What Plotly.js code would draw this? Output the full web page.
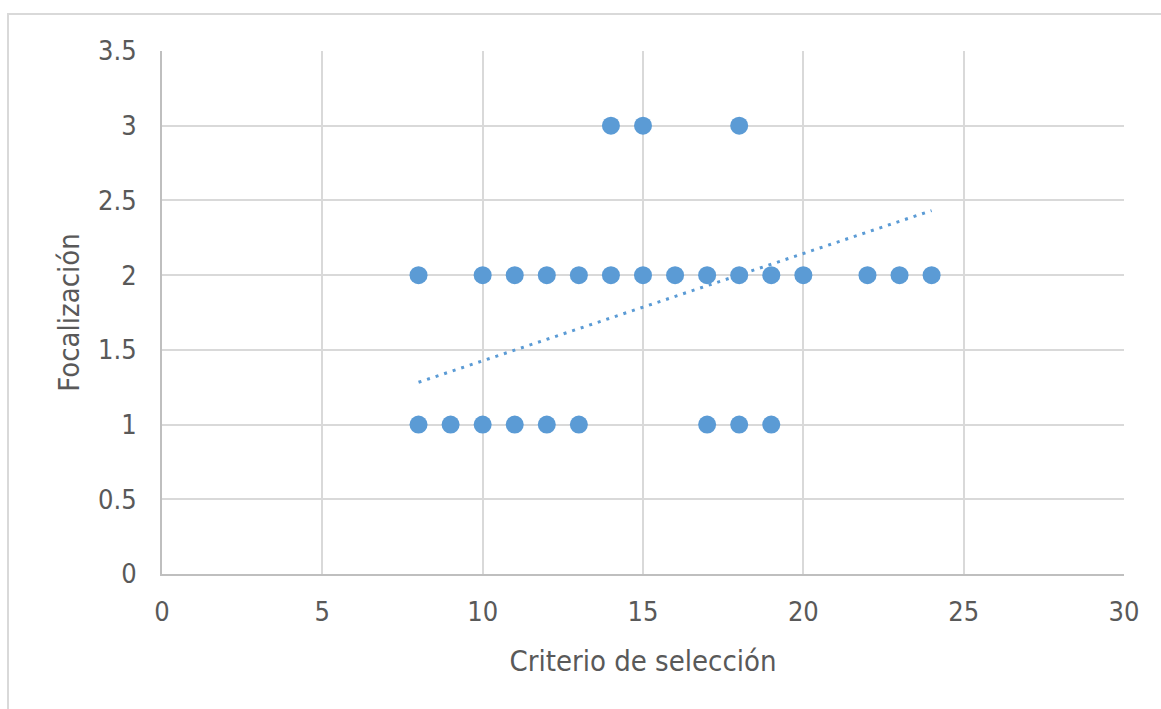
<!DOCTYPE html>
<html>
<head>
<meta charset="utf-8">
<script src="https://cdn.plot.ly/plotly-3.0.1.min.js"></script>
<style>
html,body{margin:0;padding:0;background:#fff;}
#chart{width:1161px;height:709px;}
</style>
</head>
<body>
<div id="chart"></div>
<script>
// Data
const criterio = [14, 15, 18,
  8, 10, 11, 12, 13, 14, 15, 16, 17, 18, 19, 20, 22, 23, 24,
  8, 9, 10, 11, 12, 13, 17, 18, 19];
const focalizacion = [3, 3, 3,
  2, 2, 2, 2, 2, 2, 2, 2, 2, 2, 2, 2, 2, 2, 2,
  1, 1, 1, 1, 1, 1, 1, 1, 1];
// Linear trendline endpoints
const trendX = [8, 24];
const trendY = [1.283, 2.432];

const xTicks = [0, 5, 10, 15, 20, 25, 30];
const yTicks = [0, 0.5, 1, 1.5, 2, 2.5, 3, 3.5];

const FONT = '"Liberation Sans Narrow", "DejaVu Sans Condensed", "Noto Sans", sans-serif';
const BLUE = '#5b9bd5';

const traces = [
  {
    type: 'scatter', mode: 'lines',
    x: trendX, y: trendY,
    line: {color: BLUE, width: 3, dash: '3px,6px'},
    hoverinfo: 'skip', showlegend: false
  },
  {
    type: 'scatter', mode: 'markers',
    x: criterio, y: focalizacion,
    marker: {color: BLUE, size: 18, line: {width: 0}},
    showlegend: false
  }
];

const layout = {
  width: 1161, height: 709,
  margin: {l: 162, r: 37, t: 51, b: 135, pad: 0},
  paper_bgcolor: '#ffffff', plot_bgcolor: '#ffffff',
  font: {family: FONT, color: '#595959', size: 27},
  showlegend: false,
  xaxis: {
    range: [0, 30], tickvals: xTicks, ticktext: xTicks.map(String),
    showgrid: true, gridcolor: '#d9d9d9', gridwidth: 2,
    zeroline: false, showline: true, linecolor: '#bfbfbf', linewidth: 2,
    ticks: '', ticklabelstandoff: 13,
    tickfont: {family: FONT, size: 27, color: '#595959'},
    title: {text: 'Criterio de selección', font: {family: FONT, size: 29, color: '#595959'}, standoff: 24},
    mirror: false, fixedrange: true
  },
  yaxis: {
    range: [0, 3.5], tickvals: yTicks, ticktext: yTicks.map(String),
    showgrid: true, gridcolor: '#d9d9d9', gridwidth: 2,
    zeroline: false, showline: true, linecolor: '#bfbfbf', linewidth: 2,
    ticks: '', ticklabelstandoff: 18,
    tickfont: {family: FONT, size: 27, color: '#595959'},
    title: {text: 'Focalización', font: {family: FONT, size: 29, color: '#595959'}, standoff: 10},
    fixedrange: true
  },
  shapes: [
    {type: 'rect', xref: 'paper', yref: 'paper',
     x0: -0.1601, x1: 1.3, y0: -0.6, y1: 1.0707,
     line: {color: '#d9d9d9', width: 2}, fillcolor: 'rgba(0,0,0,0)', layer: 'below'}
  ]
};

Plotly.newPlot('chart', traces, layout, {displayModeBar: false, staticPlot: true});
</script>
</body>
</html>
